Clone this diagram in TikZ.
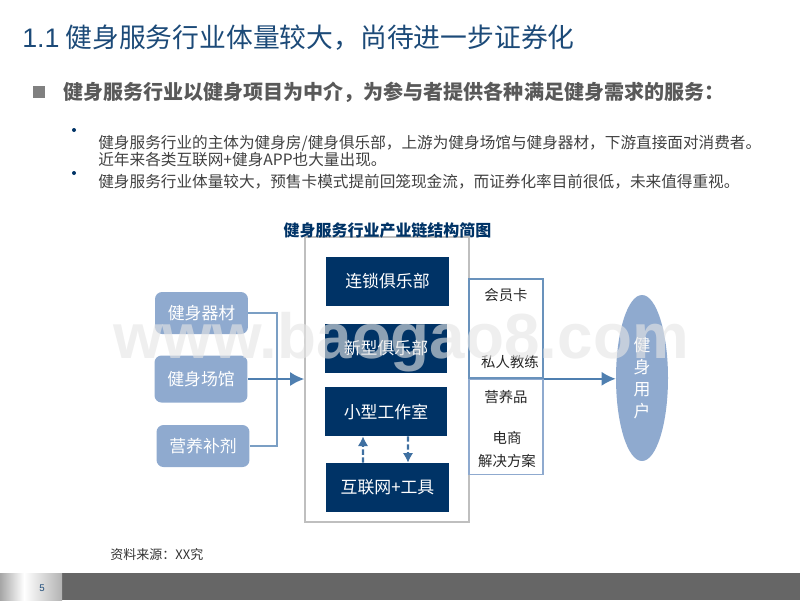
\documentclass[tikz,border=0pt]{standalone}
\usepackage{fontspec}
\setmainfont{Noto Sans CJK SC}
\newfontfamily\latinfont{Liberation Sans}
\usepackage{xcolor}
\definecolor{navy}{HTML}{003366}
\definecolor{soft}{HTML}{8FAACF}
\definecolor{link}{HTML}{4F7FB0}
\definecolor{headcol}{HTML}{1C4A78}
\tikzset{
  navybox/.style={fill=navy, text=white, font=\fontsize{9.6}{12}\selectfont, minimum width=2.46cm, minimum height=0.98cm, inner sep=0pt},
  softbox/.style={fill=soft, text=white, rounded corners=4pt, font=\fontsize{9.6}{12}\selectfont, minimum width=1.86cm, inner sep=0pt},
  goods/.style={text=black!85, font=\fontsize{8.2}{10}\selectfont, inner sep=0pt},
  body/.style={anchor=west, inner sep=0pt, text=black!75, font=\fontsize{8.9}{9.8}\selectfont, align=left},
  pipe/.style={link, line width=0.9pt},
  flow/.style={pipe, -{Latex[length=8pt,width=8pt]}},
  dashflow/.style={link!80!navy, line width=1.4pt, dash pattern=on 3pt off 1.5pt, -{Latex[length=5.5pt,width=6pt]}}
}
\usetikzlibrary{arrows.meta,shapes.geometric}
\begin{document}
\begin{tikzpicture}[x=0.02cm, y=-0.02cm]
      \useasboundingbox (0,0) rectangle (800,600);

      % Draw heading and text
      \node[anchor=west, inner sep=0pt, text=headcol, font=\fontsize{15.25}{18}\selectfont] (head) at (22,38) {{\latinfont 1.1} 健身服务行业体量较大，尚待进一步证券化};
      \node[fill=black!50, minimum size=0.24cm, inner sep=0pt] (mark) at (39,92) {};
      \node[anchor=west, inner sep=0pt, text=black!65, font=\bfseries\fontsize{11.4}{14}\selectfont] (lead) at (63,92) {健身服务行业以健身项目为中介，为参与者提供各种满足健身需求的服务：};
      \node[circle, fill=navy, minimum size=0.08cm, inner sep=0pt] (dotone) at (74,130) {};
      \node[circle, fill=navy, minimum size=0.08cm, inner sep=0pt] (dottwo) at (74,173) {};
      \node[body] (lineone) at (98,151) {健身服务行业的主体为健身房/健身俱乐部，上游为健身场馆与健身器材，下游直接面对消费者。\\近年来各类互联网+健身APP也大量出现。};
      \node[body] (linetwo) at (98,182) {健身服务行业体量较大，预售卡模式提前回笼现金流，而证券化率目前很低，未来值得重视。};

      % Draw chain box
      \node[draw=black!25, line width=1pt, fill=white, minimum width=3.28cm, minimum height=5.7cm, inner sep=0pt] (chain) at (387,379.5) {};
      \node[text=navy, inner sep=0pt, font=\bfseries\fontsize{9.1}{11}\selectfont] (charttitle) at (387.5,230) {健身服务行业产业链结构简图};

      % Draw club boxes
      \node[navybox] (chainclub) at (387.5,281.5) {连锁俱乐部};
      \node[navybox] (newclub) at (386,348) {新型俱乐部};
      \node[navybox] (studio) at (386,411.5) {小型工作室};
      \node[navybox] (web) at (387.5,487.5) {互联网+工具};

      % Draw dashed arrows
      \draw[dashflow] ([xshift=-0.49cm]web.north) -- ([xshift=-0.46cm]studio.south);
      \draw[dashflow] ([xshift=0.44cm]studio.south) -- ([xshift=0.41cm]web.north);

      % Draw supplier boxes
      \node[softbox, minimum height=0.84cm] (gear) at (201.5,313) {健身器材};
      \node[softbox, minimum height=0.94cm] (venue) at (201,379) {健身场馆};
      \node[softbox, minimum height=0.84cm] (food) at (203,446) {营养补剂};

      % Draw supplier links
      \coordinate (bus) at (277,379);
      \draw[pipe, link!75] (gear.east) -| (bus) |- (food.east);
      \draw[flow] (venue.east) -- (venue.east -| chain.west);

      % Draw product boxes
      \node[draw=link!85, line width=0.9pt, minimum width=1.48cm, minimum height=1.98cm, inner sep=0pt] (upper) at (506,328.5) {};
      \node[draw=soft, line width=0.9pt, anchor=north, minimum width=1.48cm, minimum height=1.9cm, inner sep=0pt] (lower) at (upper.south) {};
      \node[goods] (card) at (506,295) {会员卡};
      \node[goods] (coach) at (510,362) {私人教练};
      \node[goods] (supply) at (506,397) {营养品};
      \node[goods] (shop) at (507,438) {电商};
      \node[goods] (solution) at (507,461) {解决方案};

      % Draw user oval
      \node[ellipse, fill=soft, minimum width=1.04cm, minimum height=3.32cm, inner sep=0pt] (user) at (642,378) {};
      \node[text=white, align=center, inner sep=0pt, font=\fontsize{9.6}{12.6}\selectfont] (usertext) at (642,378) {健\\身\\用\\户};
      \draw[flow] (upper.south east) -- (upper.south east -| user.west);

      % Draw watermark
      \node[text=black!10, opacity=0.62, inner sep=0pt, font=\latinfont\bfseries\fontsize{36.3}{40}\selectfont] (mark2) at (401,342) {www.baogao8.com};

      % Draw source and footer
      \node[anchor=west, inner sep=0pt, text=black!80, font=\fontsize{7.4}{9}\selectfont] (source) at (110,555) {资料来源：XX究};
      \fill[black!60] (62,573) rectangle (800,600);
      \shade[left color=black!35, right color=white] (0,573) rectangle (24,600);
      \shade[left color=white, right color=black!30] (24,573) rectangle (62,600);
      \node[text=headcol, inner sep=0pt, font=\latinfont\fontsize{5.5}{7}\selectfont] (page) at (42,588) {5};
    \end{tikzpicture}
\end{document}
